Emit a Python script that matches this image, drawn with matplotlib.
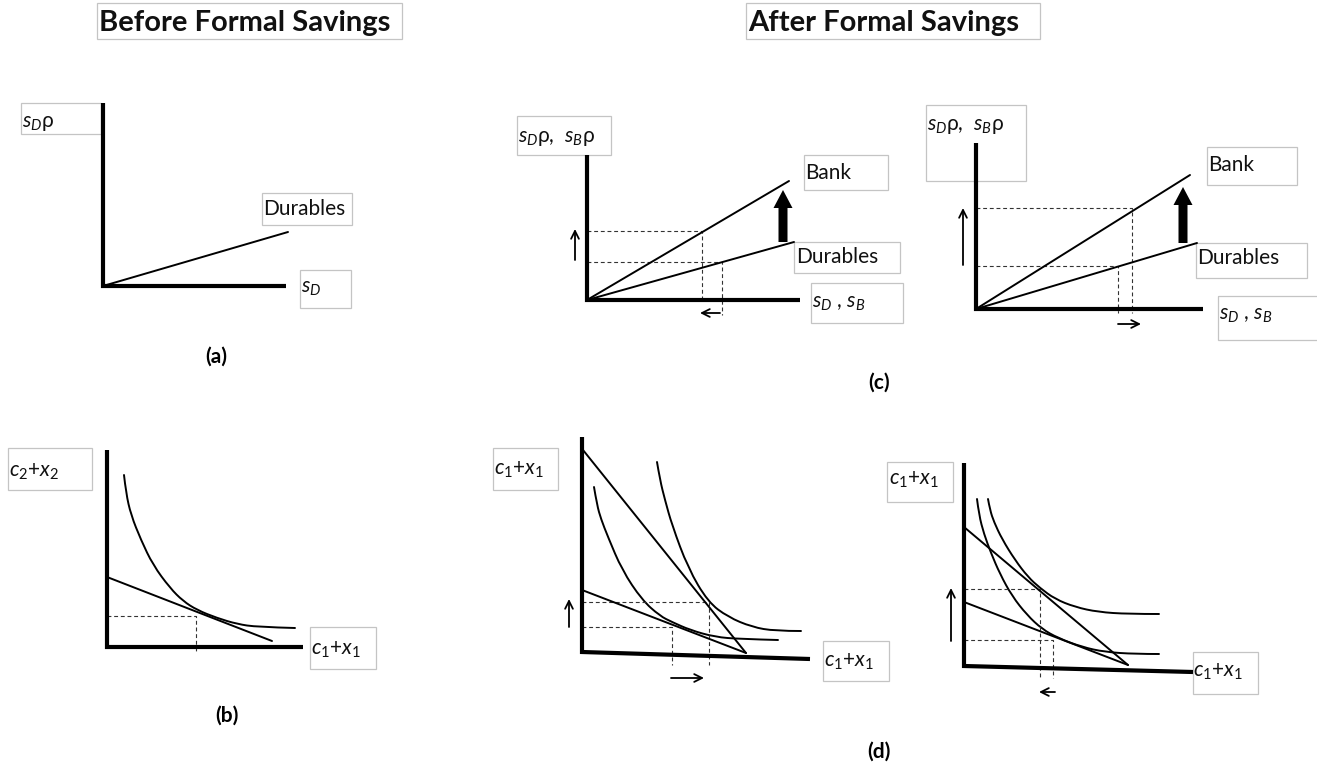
import matplotlib.pyplot as plt
from matplotlib.patches import Rectangle, PathPatch
from matplotlib.path import Path

plt.rcParams['font.family'] = ['Lato', 'DejaVu Sans']
plt.rcParams['mathtext.fontset'] = 'custom'
plt.rcParams['mathtext.rm'] = 'Lato'
plt.rcParams['mathtext.it'] = 'Lato:italic'

# all geometry, in pixels (x to the right, y down)

# (a) before formal savings, returns
a_axis = ([103, 103, 286], [103, 286, 286])
a_durables = ([103, 288], [286, 232])

# (c) after formal savings, returns (left and right case)
cl_axis = ([587, 587, 800], [155, 300, 300])
cl_bank = ([587, 789], [300, 181])
cl_durables = ([587, 794], [300, 242])
cl_guides = [([587, 702, 702], [231, 231, 300]),
             ([587, 722, 722], [262, 262, 315])]

cr_axis = ([976, 976, 1203], [143, 309, 309])
cr_bank = ([976, 1190], [309, 175])
cr_durables = ([976, 1197], [309, 243])
cr_guides = [([976, 1132, 1132], [208, 208, 313]),
             ([976, 1118, 1118], [266, 266, 313])]

# (b) before formal savings, consumption
b_axis = ([107, 107, 303], [450, 647, 647])
b_budget = ([107, 272], [577, 641])
b_ic_x = [124, 126, 131, 141, 153, 170, 183, 197, 217, 237, 257, 295]
b_ic_y = [475, 493, 515, 540, 565, 588, 601, 610, 618, 624, 627, 628]
b_guide = ([107, 196, 196], [616, 616, 653])

# (d) after formal savings, consumption (left case)
dl_axis = ([582, 582, 810], [437, 652, 659])
dl_steep = ([583, 746], [450, 653])
dl_flat = ([582, 746], [590, 653])
dl_ic1_x = [594, 597, 601, 608, 622, 642, 660, 672, 690, 715, 740, 778]
dl_ic1_y = [487, 505, 519, 537, 570, 600, 616, 622, 630, 637, 639, 640]
dl_ic2_x = [657, 660, 665, 672, 688, 708, 728, 752, 775, 801]
dl_ic2_y = [462, 480, 500, 525, 568, 602, 617, 627, 631, 631]
dl_guides = [([582, 709, 709], [602, 602, 665]),
             ([582, 672, 672], [627, 627, 665])]

# (d) right case
dr_axis = ([964, 964, 1193], [463, 666, 672])
dr_steep = ([964, 1128], [527, 665])
dr_flat = ([964, 1128], [602, 665])
dr_ic1_x = [977, 979, 984, 991, 1000, 1012, 1027, 1042, 1058, 1082, 1105, 1135, 1159]
dr_ic1_y = [499, 515, 534, 553, 574, 596, 615, 629, 638, 647, 652, 654, 654]
dr_ic2_x = [988, 990, 994, 1002, 1015, 1028, 1040, 1055, 1075, 1098, 1128, 1159]
dr_ic2_y = [499, 510, 522, 539, 560, 577, 588, 599, 607, 612, 614, 614]
dr_guides = [([964, 1040, 1040], [589, 589, 678]),
             ([964, 1053, 1053], [640, 640, 678])]

title_before = "Before Formal Savings"
title_after = "After Formal Savings"
lbl_sdr = r"$s_D$ρ"
lbl_sd = r"$s_D$"
lbl_both_r = r"$s_D$ρ,  $s_B$ρ"
lbl_both = r"$s_D$ , $s_B$"
lbl_c1 = r"$c_{\mathit{1}}$+$x_{\mathit{1}}$"
lbl_c2 = r"$c_{\mathit{2}}$+$x_{\mathit{2}}$"

fig = plt.figure(figsize=(13.17, 7.69), dpi=100)
ax = fig.add_axes([0, 0, 1, 1])
ax.set_xlim(0, 1317)
ax.set_ylim(769, 0)
ax.axis('off')

BOX = '#c4c4c4'
LBL = 15


def box(x0, y0, x1, y1):
    ax.add_patch(Rectangle((x0, y0), x1 - x0, y1 - y0, fill=False,
                           ec=BOX, lw=0.9))


def label(s, x, y, size=LBL, weight='normal'):
    ax.text(x, y, s, fontsize=size, fontweight=weight, va='baseline',
            ha='left', color='#111111')


def tag(s, x, y):
    ax.text(x, y, s, fontsize=15, fontweight='bold', ha='center', va='center')


def axis(xy):
    ax.plot(*xy, color='black', lw=3.0, solid_joinstyle='miter',
            solid_capstyle='butt')


def line(xy, lw=1.4):
    ax.plot(*xy, color='black', lw=lw, solid_capstyle='round')


def curve(xs, ys, lw=1.4):
    # smooth path that uses the read points as quadratic control points
    pts = list(zip(xs, ys))
    verts = [pts[0]]
    codes = [Path.MOVETO]
    for i in range(1, len(pts) - 1):
        mid = ((pts[i][0] + pts[i + 1][0]) / 2, (pts[i][1] + pts[i + 1][1]) / 2)
        if i == len(pts) - 2:
            mid = pts[-1]
        verts += [pts[i], mid]
        codes += [Path.CURVE3, Path.CURVE3]
    ax.add_patch(PathPatch(Path(verts, codes), fill=False, ec='black',
                           lw=lw, capstyle='round'))


def guide(xy):
    ax.plot(*xy, color='#333333', lw=0.8, ls=(0, (3.5, 2.5)))


def small_arrow(x0, y0, x1, y1):
    ax.annotate('', xy=(x1, y1), xytext=(x0, y0),
                arrowprops=dict(arrowstyle='->', lw=1.3, color='black',
                                mutation_scale=14, shrinkA=0, shrinkB=0))


def big_arrow(x, y0, y1):
    ax.arrow(x, y0, 0, y1 - y0, width=9, head_width=19, head_length=18,
             length_includes_head=True, color='black', lw=0)


# titles
box(97, 3, 402, 39)
label(title_before, 99, 31, size=21, weight='bold')
box(746, 3, 1040, 39)
label(title_after, 748, 31, size=21, weight='bold')

# (a)
axis(a_axis)
line(a_durables)
box(21, 103, 101, 134); label(lbl_sdr, 22, 127)
box(262, 193, 352, 225); label("Durables", 263, 215)
box(300, 270, 351, 308); label(lbl_sd, 301, 293)
tag("(a)", 216, 357)

# (c) left
for g in cl_guides:
    guide(g)
axis(cl_axis)
line(cl_bank)
line(cl_durables)
big_arrow(783, 242, 190)
small_arrow(575, 260, 575, 229)
small_arrow(720, 313, 700, 313)
box(517, 116, 611, 155); label(lbl_both_r, 518, 142)
box(804, 155, 888, 190); label("Bank", 805, 179)
box(794, 242, 900, 273); label("Durables", 796, 263)
box(811, 283, 903, 323); label(lbl_both, 812, 308)

# (c) right
for g in cr_guides:
    guide(g)
axis(cr_axis)
line(cr_bank)
line(cr_durables)
big_arrow(1183, 243, 187)
small_arrow(963, 265, 963, 208)
small_arrow(1118, 324, 1141, 324)
box(926, 105, 1026, 181); label(lbl_both_r, 927, 130)
box(1207, 147, 1297, 185); label("Bank", 1208, 171)
box(1196, 243, 1307, 278); label("Durables", 1197, 264)
box(1218, 296, 1320, 340); label(lbl_both, 1219, 320)
tag("(c)", 879, 383)

# (b)
guide(b_guide)
axis(b_axis)
line(b_budget)
curve(b_ic_x, b_ic_y)
box(8, 448, 92, 490); label(lbl_c2, 9, 477)
box(310, 627, 376, 669); label(lbl_c1, 311, 655)
tag("(b)", 227, 716)

# (d) left
for g in dl_guides:
    guide(g)
axis(dl_axis)
line(dl_steep)
line(dl_flat)
curve(dl_ic1_x, dl_ic1_y)
curve(dl_ic2_x, dl_ic2_y)
small_arrow(569, 627, 569, 599)
small_arrow(671, 678, 704, 678)
box(493, 448, 558, 490); label(lbl_c1, 494, 475)
box(823, 641, 889, 681); label(lbl_c1, 824, 667)

# (d) right
for g in dr_guides:
    guide(g)
axis(dr_axis)
line(dr_steep)
line(dr_flat)
curve(dr_ic1_x, dr_ic1_y)
curve(dr_ic2_x, dr_ic2_y)
small_arrow(951, 641, 951, 588)
small_arrow(1055, 692, 1039, 692)
box(887, 462, 953, 502); label(lbl_c1, 889, 485)
box(1193, 652, 1258, 694); label(lbl_c1, 1193, 677)
tag("(d)", 879, 752)

fig.savefig('out.png', dpi=100)
